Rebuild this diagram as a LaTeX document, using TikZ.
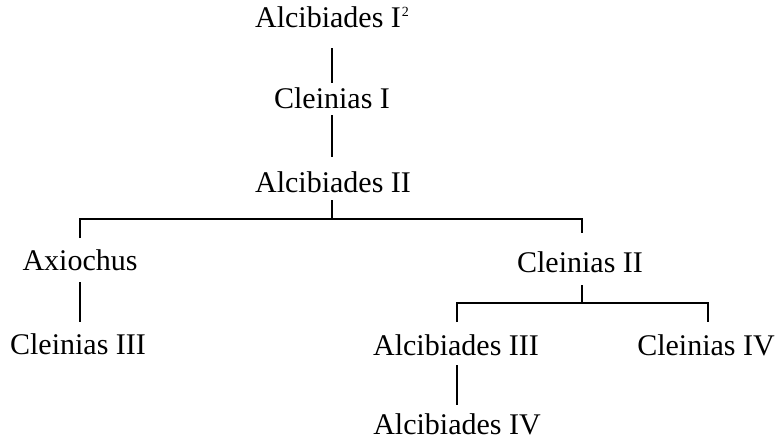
\documentclass[tikz,border=0pt]{standalone}
\usepackage{fontspec}
\setmainfont{Liberation Serif}
\begin{document}
\begin{tikzpicture}[x=1pt,y=-1pt,
  person/.style={anchor=base,inner sep=0pt,font=\fontsize{30}{36}\selectfont},
  link/.style={line width=1.5pt}]
\useasboundingbox (0,0) rectangle (776,440);

% generations
\node[person] (a1) at (332,27) {Alcibiades I\kern1pt\raisebox{10.5pt}{\fontsize{14}{14}\selectfont 2}};
\node[person] (c1) at (332,108) {Cleinias I};
\node[person] (a2) at (333,192) {Alcibiades II};
\node[person] (ax) at (80,270) {Axiochus};
\node[person] (c2) at (580,272) {Cleinias II};
\node[person] (c3) at (78,354) {Cleinias III};
\node[person] (a3) at (456,355) {Alcibiades III};
\node[person] (c4) at (706,355) {Cleinias IV};
\node[person] (a4) at (457,434) {Alcibiades IV};

% junctions of the sibling brackets
\coordinate (j1) at (332,219);
\coordinate (j2) at (582,303);

% descent lines
\draw[link] ([yshift=-21pt]a1.base -| c1) -- ([yshift=25pt]c1.base);
\draw[link] ([yshift=-7pt]c1.base) -- ([yshift=35pt]a2.base -| c1);
\draw[link] ([yshift=-8pt]a2.base -| j1) -- (j1);
\draw[link] ([yshift=32pt]ax.base) |- (j1) -| ([yshift=39pt]c2.base -| j2);
\draw[link] ([yshift=-12pt]ax.base) -- ([yshift=32pt]c3.base -| ax.base);
\draw[link] ([yshift=-13pt]c2.base -| j2) -- (j2);
\draw[link] ([yshift=33pt]a3.base -| a4.base) |- (j2) -| ([yshift=33pt]c4.base -| 708,0);
\draw[link] ([yshift=-10pt]a3.base -| a4.base) -- ([yshift=29pt]a4.base);
\end{tikzpicture}
\end{document}
